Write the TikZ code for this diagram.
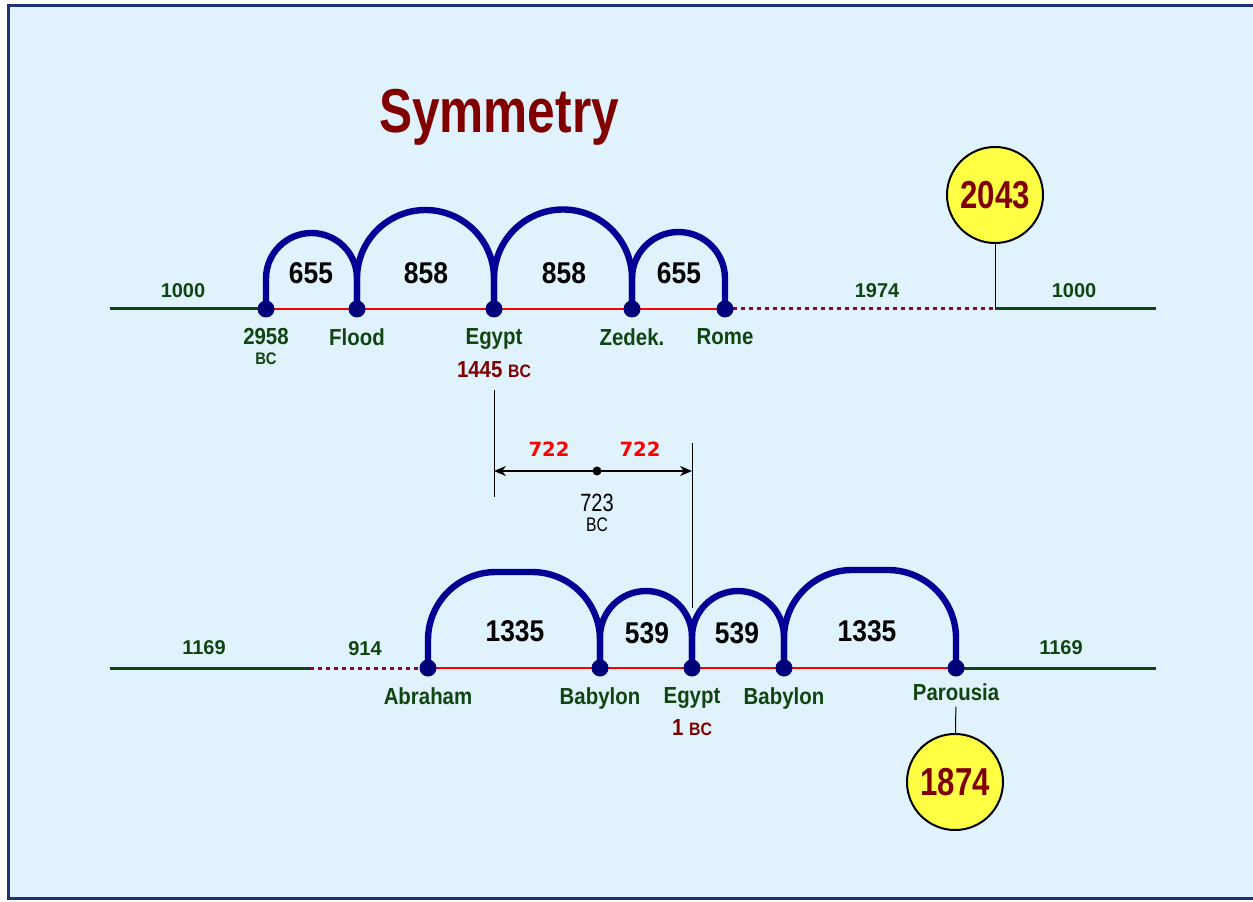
\documentclass[tikz,border=0pt]{standalone}
\usepackage{fontspec}
\setmainfont{Liberation Sans}
\newfontfamily\condensed{Liberation Sans}[FakeStretch=0.88]
\newfontfamily\narrowtitle{Liberation Sans}[FakeStretch=0.8]
\newfontfamily\widefont{DejaVu Sans}
\usetikzlibrary{positioning, arrows.meta}
\usepackage{xcolor}
\definecolor{skyback}{RGB}{224,242,252}
\definecolor{framecol}{RGB}{30,50,120}
\definecolor{leafgreen}{RGB}{16,68,16}
\definecolor{arcnavy}{RGB}{0,0,150}
\definecolor{dotnavy}{RGB}{0,0,120}
\definecolor{darkred}{RGB}{128,0,0}
\definecolor{plum}{RGB}{150,0,60}
\definecolor{sunyellow}{RGB}{255,255,68}

\begin{document}
\begin{tikzpicture}[x=0.5pt, y=0.5pt,
    stopdot/.style={circle, fill=dotnavy, minimum size=8.5pt, inner sep=0pt},
    placelbl/.style={font=\condensed\bfseries\fontsize{11.6}{12}\selectfont, text=leafgreen, inner sep=0pt},
    spanlbl/.style={font=\condensed\bfseries\fontsize{15}{15}\selectfont, inner sep=0pt},
    eralbl/.style={font=\bfseries\fontsize{10}{10}\selectfont, text=leafgreen, inner sep=0pt},
    halflbl/.style={font=\widefont\bfseries\fontsize{9.8}{10}\selectfont, text=red, inner sep=0pt},
    yearring/.style={circle, draw, line width=1pt, fill=sunyellow, minimum size=48pt, inner sep=0pt,
        font=\narrowtitle\bfseries\fontsize{19.5}{20}\selectfont, text=darkred},
    archline/.style={arcnavy, line width=3.2pt},
    redbase/.style={red, line width=0.75pt},
    greenline/.style={leafgreen, line width=1.5pt},
    dotline/.style={plum, line width=1.5pt, dash pattern=on 2pt off 2pt},
    >={Stealth[length=6pt,width=5pt]}]
    \useasboundingbox (0,0) rectangle (1253,901);
    \fill[white] (0,0) rectangle (1253,901);
    \draw[framecol, line width=1.5pt, fill=skyback] (8,3) rectangle (1270,895);

    \draw node[anchor=base, font=\narrowtitle\bfseries\fontsize{31}{31}\selectfont, text=darkred] (title) at (499,768) {Symmetry};

    \foreach \n/\x in {creation/266, flood/357, exodus/494, zedek/632, rome/725}
        \coordinate (\n) at (\x,592);
    \coordinate (topstart) at (110,592);
    \coordinate (topsplit) at (995,592);
    \coordinate (topend) at (1156,592);

    \draw[greenline] (topstart) -- (creation);
    \draw[redbase] (creation) -- (rome);
    \draw[dotline] (rome) -- (topsplit);
    \draw[greenline] (topsplit) -- (topend);

    \foreach \a/\b/\r in {creation/flood/22.75, flood/exodus/34.25, exodus/zedek/34.5, zedek/rome/23.25}
        \draw[archline] (\a) -- ++(0,30.5) arc[start angle=180, end angle=0, radius=\r pt] -- (\b);

    \foreach \n in {creation, flood, exodus, zedek, rome}
        \draw node[stopdot] (\n dot) at (\n) {};

    \draw node[spanlbl] (spanA) at (311,628) {655};
    \draw node[spanlbl] (spanB) at (426,628) {858};
    \draw node[spanlbl] (spanC) at (564,628) {858};
    \draw node[spanlbl] (spanD) at (679,628) {655};

    \draw node[eralbl] (eraA) at (183,610) {1000};
    \draw node[eralbl] (eraB) at (877,610) {1974};
    \draw node[eralbl] (eraC) at (1074,610) {1000};

    \draw node[below=5pt of creationdot, placelbl] (creationlbl) {2958};
    \draw node[below=3.5pt of creationlbl, placelbl, font=\condensed\bfseries\fontsize{8.4}{9}\selectfont] (creationbc) {BC};
    \draw node[below=5pt of flooddot, placelbl] (floodlbl) {Flood};
    \draw node[below=5pt of exodusdot, placelbl] (exoduslbl) {Egypt};
    \draw node[below=6pt of exoduslbl, placelbl, text=darkred] (exodusyear) {1445 {\fontsize{9}{9}\selectfont BC}};
    \draw node[below=5pt of zedekdot, placelbl] (zedeklbl) {Zedek.};
    \draw node[below=5pt of romedot, placelbl] (romelbl) {Rome};

    \draw node[yearring] (ring2043) at (995,706) {2043};
    \draw[line width=0.5pt] (ring2043) -- (topsplit);

    \coordinate (markAtop) at (494,511);
    \coordinate (markAbot) at (494,404);
    \coordinate (markBtop) at (692,458);
    \coordinate (markBbot) at (692,293);
    \coordinate (arrowL) at (494,430);
    \coordinate (arrowR) at (692,430);
    \draw[line width=0.5pt] (markAtop) -- (markAbot);
    \draw[line width=0.5pt] (markBtop) -- (markBbot);
    \draw[<->, line width=0.6pt] (arrowL) -- (arrowR);
    \draw node[circle, fill=black, minimum size=4.5pt, inner sep=0pt] (midpoint) at (597,430) {};
    \draw node[halflbl] (halfL) at (549,452) {722};
    \draw node[halflbl] (halfR) at (640,452) {722};
    \draw node[font=\narrowtitle\fontsize{12.5}{13}\selectfont, inner sep=0pt] (midyear) at (597,398) {723};
    \draw node[font=\narrowtitle\fontsize{9.8}{10}\selectfont, inner sep=0pt] (midbc) at (597,376) {BC};

    \foreach \n/\x in {abraham/428, babylonA/600, egypt/692, babylonB/784, parousia/956}
        \coordinate (\n) at (\x,233);
    \coordinate (botstart) at (110,233);
    \coordinate (botsplit) at (310,233);
    \coordinate (botend) at (1156,233);

    \draw[greenline] (botstart) -- (botsplit);
    \draw[dotline] (botsplit) -- (abraham);
    \draw[redbase] (abraham) -- (parousia);
    \draw[greenline] (parousia) -- (botend);

    \draw[archline, rounded corners=34pt] (abraham) -- ++(0,96) -- ++(172,0) -- (babylonA);
    \draw[archline] (babylonA) -- ++(0,31) arc[start angle=180, end angle=0, radius=23pt] -- (egypt);
    \draw[archline] (egypt) -- ++(0,31) arc[start angle=180, end angle=0, radius=23pt] -- (babylonB);
    \draw[archline, rounded corners=34pt] (babylonB) -- ++(0,98) -- ++(172,0) -- (parousia);

    \foreach \n in {abraham, babylonA, egypt, babylonB, parousia}
        \draw node[stopdot] (\n dot) at (\n) {};

    \draw node[spanlbl] (spanE) at (515,270) {1335};
    \draw node[spanlbl] (spanF) at (647,268) {539};
    \draw node[spanlbl] (spanG) at (737,268) {539};
    \draw node[spanlbl] (spanH) at (867,270) {1335};

    \draw node[eralbl] (eraD) at (204,253) {1169};
    \draw node[eralbl] (eraE) at (365,252) {914};
    \draw node[eralbl] (eraF) at (1061,253) {1169};

    \draw node[below=5pt of abrahamdot, placelbl] (abrahamlbl) {Abraham};
    \draw node[below=5pt of babylonAdot, placelbl] (babylonAlbl) {Babylon};
    \draw node[below=5pt of egyptdot, placelbl] (egyptlbl) {Egypt};
    \draw node[below=5.5pt of egyptlbl, placelbl, text=darkred] (egyptyear) {1 {\fontsize{9}{9}\selectfont BC}};
    \draw node[below=5pt of babylonBdot, placelbl] (babylonBlbl) {Babylon};
    \draw node[below=3pt of parousiadot, placelbl] (parousialbl) {Parousia};

    \draw node[yearring] (ring1874) at (955,119) {1874};
    \draw[line width=0.5pt, shorten <=3pt] (parousialbl) -- (ring1874);
\end{tikzpicture}
\end{document}
